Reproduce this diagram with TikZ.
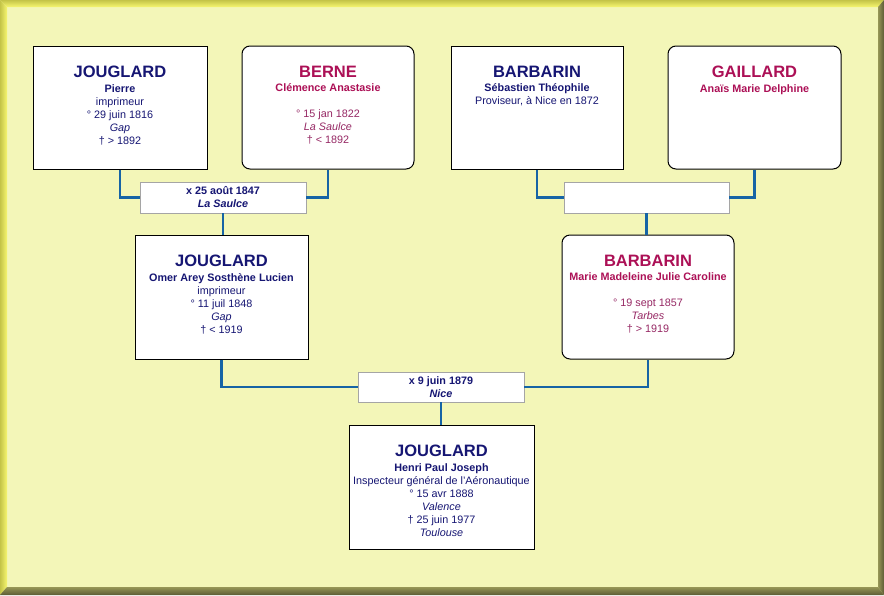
\documentclass[tikz,border=0pt]{standalone}
\usepackage{fontspec}
\setmainfont{Liberation Sans}
\definecolor{bgyel}{RGB}{243,246,184}
\definecolor{tlA}{RGB}{196,196,72}
\definecolor{tlB}{RGB}{246,246,112}
\definecolor{brA}{RGB}{150,150,86}
\definecolor{brB}{RGB}{92,92,52}
\definecolor{navy}{RGB}{22,22,115}
\definecolor{fem}{RGB}{172,16,86}
\definecolor{femtxt}{RGB}{150,40,100}
\definecolor{link}{RGB}{22,100,165}
\definecolor{mgray}{RGB}{165,165,165}
\newcommand\surnm[1]{{\fontsize{16.5}{18}\selectfont\bfseries #1}}
\begin{document}
\begin{tikzpicture}[x=1pt,y=-1pt,
  pbox/.style={draw=black, line width=1pt, fill=white, minimum width=#1, minimum height=123pt, inner sep=0pt},
  fbox/.style={pbox=#1, rounded corners=8pt},
  mbox/.style={draw=mgray, line width=0.9pt, fill=white, minimum width=#1, minimum height=31pt, inner sep=0pt,
     align=center, text=navy, font=\fontsize{10.8}{13}\selectfont\bfseries},
  txtm/.style={anchor=north, inner sep=0pt, align=center, text=navy, font=\fontsize{10.8}{13}\selectfont},
  txtf/.style={anchor=north, inner sep=0pt, align=center, text=femtxt, font=\fontsize{10.8}{13}\selectfont},
  conn/.style={draw=link, line width=2.2pt}]
\useasboundingbox (0,0) rectangle (884,595);
\fill[bgyel] (0,0) rectangle (884,595);
\shade[top color=tlA, bottom color=tlB] (0,0) -- (884,0) -- (878,7) -- (7,7) -- cycle;
\shade[left color=tlA, right color=tlB] (0,0) -- (7,7) -- (7,587) -- (0,595) -- cycle;
\shade[top color=brA, bottom color=brB] (0,595) -- (7,587) -- (878,587) -- (884,595) -- cycle;
\shade[left color=brA, right color=brB] (884,0) -- (878,7) -- (878,587) -- (884,595) -- cycle;

% boxes
\node[pbox=174pt] (p1) at (120,107.5) {};
\node[fbox=172pt] (p2) at (328,107.5) {};
\node[pbox=172pt] (p3) at (537,107.5) {};
\node[fbox=173pt] (p4) at (754.5,107.5) {};
\node[mbox=166pt] (m1) at (223,197.5) {x 25 août 1847\\\textit{La Saulce}};
\node[mbox=165pt] (m2) at (646.5,197.5) {};
\node[pbox=173pt, minimum height=124pt] (c1) at (221.5,297) {};
\node[fbox=172pt, minimum height=124pt] (c2) at (648,297) {};
\node[mbox=166pt, minimum height=30pt] (m3) at (441,387) {x 9 juin 1879\\\textit{Nice}};
\node[pbox=185pt, minimum height=124pt] (g) at (441.5,487) {};

% texts
\node[txtm] (p1t) at ([yshift=-20.5pt]p1.north) {\surnm{JOUGLARD}\\[1.3pt]\textbf{Pierre}\\imprimeur\\° 29 juin 1816\\\textit{Gap}\\† > 1892};
\node[txtf] (p2t) at ([yshift=-20.5pt]p2.north) {\textcolor{fem}{\surnm{BERNE}}\\[1.3pt]\textcolor{fem}{\textbf{Clémence Anastasie}}\\[13pt]° 15 jan 1822\\\textit{La Saulce}\\† < 1892};
\node[txtm] (p3t) at ([yshift=-20.5pt]p3.north) {\surnm{BARBARIN}\\[1.3pt]\textbf{Sébastien Théophile}\\Proviseur, à Nice en 1872};
\node[txtf] (p4t) at ([yshift=-20.5pt]p4.north) {\textcolor{fem}{\surnm{GAILLARD}}\\[1.3pt]\textcolor{fem}{\textbf{Anaïs Marie Delphine}}};
\node[txtm] (c1t) at ([yshift=-20.5pt]c1.north) {\surnm{JOUGLARD}\\[1.3pt]\textbf{Omer Arey Sosthène Lucien}\\imprimeur\\° 11 juil 1848\\\textit{Gap}\\† < 1919};
\node[txtf] (c2t) at ([yshift=-20.5pt]c2.north) {\textcolor{fem}{\surnm{BARBARIN}}\\[1.3pt]\textcolor{fem}{\textbf{Marie Madeleine Julie Caroline}}\\[13pt]° 19 sept 1857\\\textit{Tarbes}\\† > 1919};
\node[txtm] (gt) at ([yshift=-20.5pt]g.north) {\surnm{JOUGLARD}\\[1.3pt]\textbf{Henri Paul Joseph}\\Inspecteur général de l'Aéronautique\\° 15 avr 1888\\\textit{Valence}\\† 25 juin 1977\\\textit{Toulouse}};

% connectors
\draw[conn] (p1.south) |- (m1.west);
\draw[conn] (p2.south) |- (m1.east);
\draw[conn] (m1.south) -- (m1.south |- c1.north);
\draw[conn] (p3.south) |- (m2.west);
\draw[conn] (p4.south) |- (m2.east);
\draw[conn] (m2.south) -- (m2.south |- c2.north);
\draw[conn] (c1.south) |- (m3.west);
\draw[conn] (c2.south) |- (m3.east);
\draw[conn] (m3.south) -- (m3.south |- g.north);
\end{tikzpicture}
\end{document}
